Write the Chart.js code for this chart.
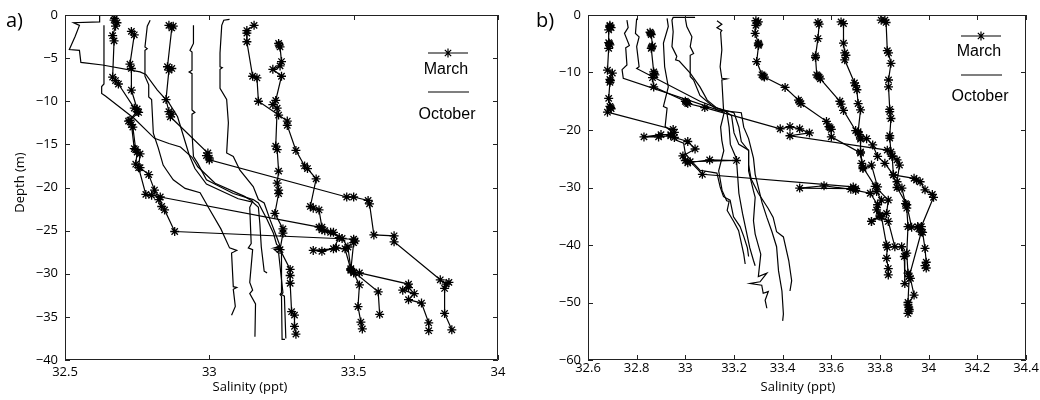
<!DOCTYPE html>
<html>
<head>
<meta charset="utf-8">
<title>Salinity profiles, March and October</title>
<script src="https://cdn.jsdelivr.net/npm/chart.js@4.4.1/dist/chart.umd.min.js"></script>
<style>
  body { margin: 0; background: #fff; }
  .panel { position: absolute; top: 0; width: 520px; height: 400px; }
</style>
</head>
<body>
<div class="panel" style="left:0"><canvas id="chartA"></canvas></div>
<div class="panel" style="left:520px"><canvas id="chartB"></canvas></div>
<script>
// profiles as [salinity (ppt), depth (m)] pairs

// panel a) - March (stars)
const marchA1 = [[32.672,-0.4],[32.67,-0.6],[32.68,-0.9],[32.675,-1.3],[32.665,-2.4],[32.67,-3.0],[32.665,-7.2],[32.675,-7.6],[32.685,-8.0],[32.74,-10.8],[32.75,-11.2],[32.72,-12.3],[32.73,-12.7],[32.74,-15.5],[32.75,-15.9],[32.745,-17.3],[32.76,-17.7],[32.79,-18.5],[32.81,-20.3],[32.825,-21.4],[32.835,-22.2],[32.845,-22.6],[32.88,-25.1],[33.5,-26.0],[33.505,-26.2],[33.5,-26.4],[33.49,-29.6],[33.5,-29.9],[33.52,-31.3],[33.515,-33.8],[33.525,-35.6],[33.53,-36.4]];
const marchA2 = [[32.73,-1.9],[32.74,-2.3],[32.725,-5.7],[32.73,-6.2],[32.73,-8.7],[32.75,-10.9],[32.755,-11.3],[32.725,-12.2],[32.735,-13.0],[32.745,-15.6],[32.76,-16.1],[32.755,-17.7],[32.78,-20.8],[32.80,-20.9],[32.83,-21.1],[33.38,-24.6],[33.39,-24.9],[33.42,-25.2],[33.45,-25.8],[33.43,-27.1],[33.36,-27.3],[33.39,-27.4],[33.44,-27.0],[33.47,-27.1],[33.49,-29.5],[33.585,-32.1],[33.59,-34.7]];
const marchA3 = [[32.86,-1.2],[32.875,-1.3],[32.87,-1.5],[32.855,-6.0],[32.87,-6.2],[32.86,-6.4],[32.85,-9.8],[32.86,-11.2],[32.87,-11.5],[32.865,-11.8],[32.995,-16.0],[32.99,-16.3],[33.0,-16.6],[33.0,-16.8],[33.476,-21.1],[33.5,-21.1],[33.55,-21.5],[33.555,-21.9],[33.57,-25.5],[33.64,-25.6],[33.64,-26.3],[33.80,-30.7],[33.82,-31.2],[33.83,-31.0],[33.815,-31.7],[33.815,-34.6],[33.84,-36.5]];
const marchA4 = [[33.155,-1.2],[33.13,-1.8],[33.13,-2.1],[33.13,-3.1],[33.15,-7.1],[33.165,-7.3],[33.17,-10.0],[33.24,-11.6],[33.27,-12.3],[33.27,-12.8],[33.3,-15.7],[33.33,-17.5],[33.34,-17.8],[33.37,-19.0],[33.35,-22.2],[33.36,-22.4],[33.38,-22.6],[33.39,-24.6],[33.40,-25.0],[33.43,-25.2],[33.46,-25.9],[33.48,-26.9],[33.49,-29.4],[33.50,-29.8],[33.52,-29.9],[33.69,-31.2],[33.69,-31.6],[33.67,-31.9],[33.71,-32.3],[33.69,-33.0],[33.735,-33.4],[33.76,-35.7],[33.76,-36.6]];
const marchA5 = [[33.24,-3.3],[33.242,-3.5],[33.245,-3.7],[33.25,-5.4],[33.245,-5.9],[33.22,-6.3],[33.25,-7.1],[33.23,-9.9],[33.22,-10.4],[33.235,-10.8],[33.23,-15.2],[33.235,-15.6],[33.24,-18.1],[33.235,-19.5],[33.24,-20.3],[33.24,-20.7],[33.227,-23.0],[33.255,-24.8],[33.255,-25.3],[33.245,-27.2],[33.28,-29.5],[33.28,-30.2],[33.28,-31.1],[33.285,-34.4],[33.295,-34.8],[33.295,-36.1],[33.30,-37.0]];

// panel a) - October (plain lines)
const octA1 = [[32.62,-0.1],[32.62,-0.8],[32.53,-0.9],[32.55,-1.2],[32.535,-2.5],[32.515,-4.0],[32.55,-4.1],[32.555,-5.5],[32.63,-5.8],[32.76,-6.6],[32.78,-6.9],[32.82,-8.7],[32.86,-10.2],[32.89,-11.8],[32.93,-16.2],[32.95,-17.8],[32.99,-19.6],[33.10,-21.3],[33.15,-21.7],[33.17,-22.3],[33.175,-24.2],[33.18,-26.9],[33.19,-29.7],[33.20,-29.9]];
const octA2 = [[32.635,-1.2],[32.635,-8.0],[32.627,-8.3],[32.627,-9.1],[32.64,-9.4],[32.74,-12.0],[32.81,-14.3],[32.86,-14.9],[32.90,-15.3],[32.94,-16.5],[32.96,-17.6],[33.02,-19.5],[33.12,-21.0],[33.15,-21.6],[33.14,-22.3],[33.145,-26.5],[33.135,-27.0],[33.15,-27.2],[33.14,-31.0],[33.15,-31.9],[33.14,-32.3],[33.16,-33.5],[33.158,-37.3]];
const octA3 = [[32.795,-0.6],[32.785,-1.3],[32.777,-3.7],[32.785,-3.9],[32.777,-4.1],[32.777,-7.1],[32.79,-8.1],[32.79,-9.5],[32.80,-9.8],[32.806,-13.7],[32.823,-15.4],[32.84,-17.4],[32.852,-18.0],[32.875,-19.1],[32.916,-20.1],[32.968,-20.6],[33.0,-22.5],[33.04,-24.8],[33.07,-27.0],[33.095,-27.3],[33.077,-27.6],[33.083,-31.5],[33.095,-31.6],[33.083,-31.8],[33.09,-33.8],[33.077,-34.8]];
const octA4 = [[32.945,-1.2],[32.945,-3.3],[32.933,-4.1],[32.94,-4.3],[32.94,-6.4],[32.93,-6.6],[32.94,-6.8],[32.94,-8.7],[32.94,-11.0],[32.95,-11.3],[32.94,-11.5],[32.94,-13.7],[32.945,-16.4],[32.96,-17.2],[32.99,-19.1],[33.083,-20.7],[33.152,-21.4],[33.17,-21.8],[33.2,-23.7],[33.222,-25.3],[33.233,-26.6],[33.25,-27.0],[33.225,-27.2],[33.24,-27.6],[33.255,-32.2],[33.25,-32.4],[33.26,-32.6],[33.265,-37.5]];
const octA5 = [[33.07,-0.5],[33.05,-0.6],[33.043,-1.2],[33.037,-4.4],[33.037,-6.0],[33.045,-6.1],[33.037,-6.3],[33.037,-8.5],[33.06,-9.8],[33.066,-12.5],[33.06,-16.0],[33.083,-16.4],[33.106,-18.0],[33.152,-19.9],[33.17,-21.4],[33.19,-21.8],[33.21,-23.7],[33.233,-25.7],[33.245,-26.8],[33.225,-27.0],[33.25,-27.0],[33.25,-27.6],[33.25,-32.2],[33.245,-32.4],[33.25,-32.6],[33.252,-37.6],[33.262,-37.6]];

// panel b) - March (stars)
const marchB1 = [[32.69,-1.8],[32.695,-2.2],[32.69,-2.0],[32.685,-2.6],[32.685,-4.8],[32.69,-5.2],[32.688,-5.0],[32.685,-5.8],[32.68,-9.6],[32.70,-10.1],[32.69,-11.2],[32.692,-11.4],[32.69,-11.7],[32.685,-14.5],[32.69,-15.9],[32.693,-16.1],[32.695,-16.3],[32.68,-16.9],[32.95,-19.9],[32.955,-20.4],[32.94,-20.8],[32.90,-20.8],[32.83,-21.2],[32.89,-21.2],[32.94,-21.0],[32.955,-21.3],[33.01,-22.0],[33.04,-23.3],[32.99,-24.5],[33.0,-25.3],[33.01,-25.7],[33.10,-25.2],[33.21,-25.3],[33.02,-25.5],[33.07,-27.7],[33.69,-29.9],[33.70,-30.2],[33.47,-30.1],[33.57,-29.7],[33.68,-30.3],[33.70,-30.5],[33.76,-31.0],[33.79,-33.0],[33.80,-34.8],[33.765,-35.9]];
const marchB2 = [[32.855,-3.0],[32.858,-3.2],[32.86,-3.4],[32.865,-5.4],[32.862,-5.6],[32.86,-5.8],[32.87,-9.9],[32.872,-10.2],[32.875,-10.4],[32.865,-10.9],[32.87,-12.5],[33.0,-15.0],[33.005,-15.2],[33.01,-15.4],[33.08,-16.1],[33.39,-19.8],[33.43,-19.4],[33.47,-19.8],[33.51,-20.5],[33.43,-21.0],[33.83,-23.5],[33.85,-24.5],[33.855,-27.8],[33.87,-30.0],[33.91,-33.0],[33.93,-36.9],[33.955,-36.8],[33.97,-37.7],[33.92,-45.5],[33.915,-50.0],[33.918,-50.8],[33.92,-51.5]];
const marchB3 = [[33.29,-1.0],[33.30,-1.2],[33.295,-1.4],[33.29,-1.8],[33.287,-3.2],[33.30,-4.9],[33.302,-5.1],[33.30,-5.3],[33.293,-8.1],[33.315,-10.4],[33.32,-10.6],[33.325,-10.8],[33.41,-12.6],[33.465,-14.8],[33.47,-15.1],[33.475,-15.4],[33.58,-18.5],[33.59,-19.4],[33.595,-19.6],[33.60,-19.9],[33.60,-21.2],[33.72,-24.0],[33.73,-26.5],[33.78,-29.8],[33.834,-32.2],[33.827,-34.5],[33.765,-35.9],[33.80,-35.0],[33.834,-35.9],[33.861,-40.3],[33.889,-40.3],[33.90,-42.0],[33.902,-46.7]];
const marchB4 = [[33.545,-1.3],[33.55,-1.6],[33.545,-4.1],[33.535,-7.1],[33.535,-7.4],[33.54,-10.4],[33.545,-10.6],[33.55,-10.8],[33.555,-11.1],[33.635,-15.0],[33.64,-15.5],[33.65,-16.6],[33.70,-20.1],[33.71,-20.5],[33.72,-21.6],[33.72,-23.8],[33.725,-25.8],[33.73,-26.7],[33.765,-26.1],[33.79,-29.9],[33.786,-30.7],[33.806,-32.2],[33.786,-33.9],[33.806,-35.1],[33.827,-40.0],[33.83,-40.4],[33.827,-42.3],[33.834,-44.1],[33.834,-45.2]];
const marchB5 = [[33.64,-1.2],[33.65,-1.5],[33.65,-4.9],[33.655,-6.6],[33.66,-7.0],[33.655,-7.8],[33.695,-11.8],[33.70,-12.3],[33.705,-13.0],[33.71,-15.4],[33.72,-16.5],[33.71,-20.3],[33.715,-20.8],[33.72,-21.4],[33.745,-21.5],[33.77,-22.6],[33.79,-24.6],[33.82,-25.8],[33.855,-27.8],[33.94,-28.4],[33.95,-28.7],[33.965,-29.0],[33.985,-30.4],[34.015,-31.2],[34.02,-31.7],[33.97,-36.8],[33.96,-37.2],[33.975,-37.8],[33.985,-40.6],[33.99,-43.0],[33.985,-43.6],[33.99,-44.0]];
const marchB6 = [[33.805,-0.9],[33.82,-0.9],[33.825,-1.3],[33.83,-6.2],[33.835,-6.6],[33.845,-8.4],[33.835,-11.3],[33.835,-12.5],[33.84,-16.4],[33.84,-16.8],[33.845,-18.0],[33.84,-21.0],[33.84,-21.4],[33.845,-23.8],[33.85,-24.6],[33.87,-25.2],[33.88,-26.1],[33.87,-29.0],[33.89,-30.1],[33.905,-32.8],[33.91,-33.6],[33.915,-36.8],[33.91,-41.4],[33.915,-44.9],[33.925,-45.8],[33.94,-48.7],[33.915,-50.4],[33.92,-51.2],[33.915,-51.9]];

// panel b) - October (plain lines)
const octB1 = [[32.76,-0.9],[32.765,-2.2],[32.75,-3.2],[32.77,-5.3],[32.755,-5.7],[32.76,-8.7],[32.74,-9.5],[32.745,-11.0],[33.16,-16.9],[33.145,-19.5],[33.15,-21.8],[33.158,-23.6],[33.137,-27.1],[33.151,-30.5],[33.17,-32.3],[33.18,-32.4],[33.172,-34.0],[33.2,-36.0],[33.219,-37.5],[33.24,-41.6],[33.246,-43.3]];
const octB2 = [[32.80,-0.6],[32.795,-3.2],[32.81,-3.8],[32.80,-5.5],[32.81,-9.0],[32.80,-9.3],[33.06,-15.0],[33.17,-16.8],[33.18,-19.5],[33.185,-22.5],[33.21,-25.0],[33.215,-28.0],[33.22,-31.0],[33.235,-34.5],[33.25,-37.5],[33.265,-40.5],[33.28,-42.7],[33.287,-43.6]];
const octB3 = [[32.925,-0.6],[32.93,-2.0],[32.91,-4.9],[32.915,-9.0],[32.93,-12.5],[32.91,-15.9],[32.925,-16.2],[32.917,-19.4],[32.945,-20.3],[32.958,-21.7],[32.993,-22.3],[33.0,-24.1],[33.034,-25.8],[33.06,-27.0],[33.13,-27.5],[33.143,-29.9],[33.157,-31.6],[33.184,-32.2],[33.198,-35.1],[33.225,-36.8],[33.24,-38.5],[33.255,-40.5],[33.26,-42.0]];
const octB4 = [[33.04,-0.4],[32.95,-0.4],[32.945,-0.9],[32.95,-2.9],[32.945,-5.5],[32.965,-7.2],[32.96,-7.8],[32.975,-8.0],[33.02,-10.1],[33.06,-12.5],[33.09,-14.8],[33.13,-16.2],[33.2,-17.0],[33.22,-19.5],[33.23,-22.0],[33.26,-23.6],[33.26,-27.1],[33.28,-30.6],[33.287,-31.7],[33.28,-35.8],[33.287,-38.1],[33.31,-41.6],[33.30,-45.5],[33.335,-44.9],[33.307,-46.4],[33.266,-46.7],[33.314,-47.0],[33.32,-48.4],[33.341,-48.1],[33.328,-49.6],[33.335,-51.0]];
const octB5 = [[33.0,-0.6],[33.006,-2.0],[33.027,-3.8],[33.02,-5.5],[33.034,-6.7],[33.02,-7.0],[33.02,-10.7],[33.034,-11.3],[33.06,-14.0],[33.13,-16.5],[33.23,-17.0],[33.24,-19.5],[33.26,-21.5],[33.28,-24.9],[33.287,-27.7],[33.315,-32.6],[33.335,-35.2],[33.356,-37.7],[33.375,-40.3],[33.383,-44.5],[33.397,-48.0],[33.403,-52.0],[33.40,-53.2]];
const octB6 = [[33.13,-1.0],[33.15,-1.6],[33.13,-2.2],[33.15,-2.7],[33.145,-3.0],[33.15,-6.1],[33.143,-9.0],[33.15,-11.0],[33.17,-11.1],[33.15,-11.3],[33.157,-16.5],[33.19,-17.5],[33.2,-20.5],[33.22,-22.5],[33.26,-23.5],[33.26,-26.0],[33.27,-28.5],[33.3,-31.0],[33.34,-33.6],[33.361,-35.2],[33.375,-37.7],[33.403,-38.6],[33.425,-42.7],[33.437,-46.2],[33.43,-48.0]];

const marchA = [marchA1, marchA2, marchA3, marchA4, marchA5];
const octoberA = [octA1, octA2, octA3, octA4, octA5];
const marchB = [marchB1, marchB2, marchB3, marchB4, marchB5, marchB6];
const octoberB = [octB1, octB2, octB3, octB4, octB5, octB6];

const seriesNames = ['March', 'October'];

const INK = '#000';
const TICK_FONT = {family: '"Open Sans", sans-serif', size: 13};

function profileSets(march, october) {
  const sets = [];
  march.forEach(p => sets.push({
    label: seriesNames[0],
    data: p.map(([x, y]) => ({x, y})),
    showLine: true,
    borderColor: INK, borderWidth: 1.2,
    pointStyle: 'star', pointRadius: 4.5,
    pointBorderColor: INK, pointBackgroundColor: INK, pointBorderWidth: 1.3
  }));
  october.forEach(p => sets.push({
    label: seriesNames[1],
    data: p.map(([x, y]) => ({x, y})),
    showLine: true,
    borderColor: INK, borderWidth: 1.2,
    pointRadius: 0
  }));
  return sets;
}

function starPath(ctx, cx, cy, r) {
  const d = r * Math.SQRT1_2;
  ctx.moveTo(cx - r, cy); ctx.lineTo(cx + r, cy);
  ctx.moveTo(cx, cy - r); ctx.lineTo(cx, cy + r);
  ctx.moveTo(cx - d, cy - d); ctx.lineTo(cx + d, cy + d);
  ctx.moveTo(cx - d, cy + d); ctx.lineTo(cx + d, cy - d);
}

// box, inward ticks on all four sides, legend and labels in matlab style
const panelDecor = {
  id: 'panelDecor',
  afterDraw(chart, args, o) {
    const {ctx, chartArea: a, scales: {x, y}} = chart;
    ctx.save();
    ctx.strokeStyle = '#222';
    ctx.lineWidth = 1;
    ctx.beginPath();
    ctx.rect(a.left + 0.5, a.top + 0.5, a.right - a.left - 1, a.bottom - a.top - 1);
    x.ticks.forEach(t => {
      const px = Math.round(x.getPixelForValue(t.value)) + 0.5;
      ctx.moveTo(px, a.bottom); ctx.lineTo(px, a.bottom - 5);
      ctx.moveTo(px, a.top); ctx.lineTo(px, a.top + 5);
    });
    y.ticks.forEach(t => {
      const py = Math.round(y.getPixelForValue(t.value)) + 0.5;
      ctx.moveTo(a.left, py); ctx.lineTo(a.left + 5, py);
      ctx.moveTo(a.right, py); ctx.lineTo(a.right - 5, py);
    });
    ctx.stroke();

    // legend: sample line above each name
    const L = o.legend;
    const cx = a.right - L.dx;
    ctx.strokeStyle = INK;
    ctx.lineWidth = 1.2;
    ctx.beginPath();
    ctx.moveTo(cx - 20, a.top + L.y1); ctx.lineTo(cx + 20, a.top + L.y1);
    starPath(ctx, cx, a.top + L.y1, 4.5);
    ctx.moveTo(cx - 20, a.top + L.y2); ctx.lineTo(cx + 21, a.top + L.y2);
    ctx.stroke();
    ctx.fillStyle = INK;
    ctx.font = '16px "Liberation Sans", Arial, sans-serif';
    ctx.textAlign = 'center';
    ctx.textBaseline = 'middle';
    ctx.fillText(seriesNames[0], cx - 2, a.top + L.t1);
    ctx.fillText(seriesNames[1], cx - 1, a.top + L.t2);

    // panel letter
    ctx.font = '20px "Open Sans", sans-serif';
    ctx.textAlign = 'left';
    ctx.textBaseline = 'alphabetic';
    ctx.fillText(o.letter, o.letterX, 27);

    // axis titles
    ctx.font = '13px "Open Sans", sans-serif';
    ctx.textAlign = 'center';
    ctx.textBaseline = 'middle';
    ctx.fillText('Salinity (ppt)', o.xTitleX, 387);
    if (o.yTitle) {
      ctx.translate(20, (a.top + a.bottom) / 2 - 5);
      ctx.rotate(-Math.PI / 2);
      ctx.fillText(o.yTitle, 0, 0);
    }
    ctx.restore();
  }
};

function makeChart(id, march, october, cfg) {
  return new Chart(document.getElementById(id), {
    type: 'scatter',
    data: {datasets: profileSets(march, october)},
    options: {
      responsive: true,
      maintainAspectRatio: false,
      animation: false,
      devicePixelRatio: 1,
      layout: {padding: {top: 15, right: cfg.padRight, left: 0, bottom: 0}},
      plugins: {
        legend: {display: false},
        tooltip: {enabled: false},
        panelDecor: cfg.decor
      },
      scales: {
        x: {
          type: 'linear', min: cfg.xMin, max: cfg.xMax,
          grid: {display: false, drawTicks: false},
          border: {display: false},
          ticks: {
            stepSize: cfg.xStep, color: INK, padding: cfg.xPad, maxRotation: 0, autoSkip: false,
            font: TICK_FONT,
            callback: v => String(Math.round(v * 10) / 10)
          },
          afterFit: s => { s.height = 40; }
        },
        y: {
          type: 'linear', min: cfg.yMin, max: 0,
          grid: {display: false, drawTicks: false},
          border: {display: false},
          ticks: {
            stepSize: cfg.yStep, color: INK, padding: 7, autoSkip: false,
            font: TICK_FONT,
            callback: v => v < 0 ? '\u2212' + Math.abs(v) : String(v)
          },
          afterFit: s => { s.width = cfg.yWidth; }
        }
      }
    },
    plugins: [panelDecor]
  });
}

makeChart('chartA', marchA, octoberA, {
  xMin: 32.5, xMax: 34, xStep: 0.5, yMin: -40, yStep: 5,
  yWidth: 65, padRight: 22, xPad: 4,
  decor: {letter: 'a)', letterX: 6, xTitleX: 250, yTitle: 'Depth (m)',
          legend: {dx: 50, y1: 38, t1: 55, y2: 77, t2: 100}}
});

makeChart('chartB', marchB, octoberB, {
  xMin: 32.6, xMax: 34.4, xStep: 0.2, yMin: -60, yStep: 10,
  yWidth: 68, padRight: 14, xPad: 0,
  decor: {letter: 'b)', letterX: 16, xTitleX: 278, yTitle: null,
          legend: {dx: 45, y1: 21, t1: 37, y2: 60, t2: 82}}
});
</script>
</body>
</html>
